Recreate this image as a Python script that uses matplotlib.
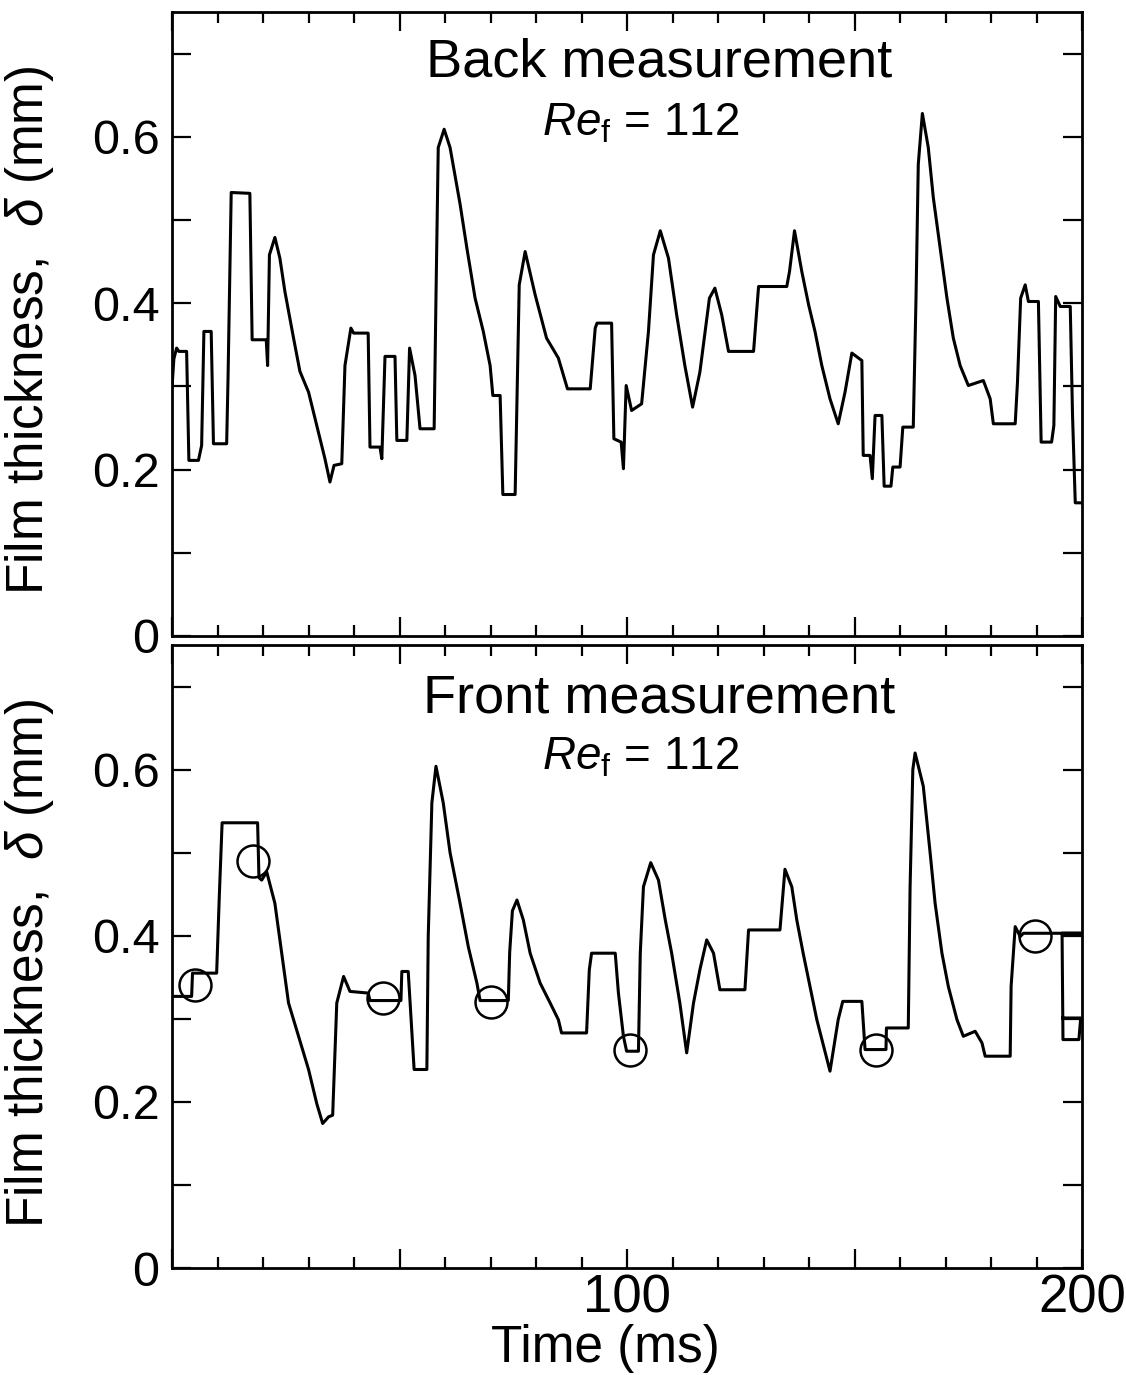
import matplotlib
matplotlib.use("Agg")
import matplotlib.pyplot as plt
from matplotlib.ticker import MultipleLocator

plt.rcParams["font.family"] = ["Liberation Sans", "DejaVu Sans"]
plt.rcParams["mathtext.fontset"] = "custom"
plt.rcParams["mathtext.rm"] = "Liberation Sans"
plt.rcParams["mathtext.it"] = "Liberation Sans:italic"

# back measurement trace (time in ms, film thickness in mm)
t_back = [0, 0.4, 1.0, 1.5, 3.2, 3.7, 5.8, 6.5, 7.0, 8.6, 9.1, 12.0, 12.3, 13.0,
          17.1, 17.6, 20.7, 21.0, 21.4, 22.6, 23.7, 24.8, 26.7, 28.1, 30.0, 31.8,
          33.6, 34.7, 35.6, 37.3, 38.0, 39.3, 39.9, 43.1, 43.5, 45.7, 46.1, 46.8,
          49.0, 49.4, 51.6, 52.2, 53.4, 54.5, 57.6, 58.0, 58.5, 59.8, 61.1, 63.3,
          64.8, 66.6, 68.4, 69.9, 70.5, 72.1, 72.7, 75.4, 76.3, 77.6, 79.8, 82.3,
          84.9, 86.9, 91.9, 93.0, 93.4, 96.6, 97.1, 98.7, 99.2, 99.8, 101.0, 103.2,
          104.7, 105.8, 107.3, 109.1, 110.9, 112.7, 114.4, 116.0, 118.1, 119.3,
          120.8, 122.3, 127.8, 128.9, 135.1, 135.7, 136.8, 138.4, 139.9, 141.3,
          142.8, 144.6, 146.4, 147.9, 149.4, 151.6, 151.9, 153.4, 153.9, 154.5,
          156.0, 156.5, 158.0, 158.4, 160.0, 160.6, 162.9, 163.5, 164.0, 164.9,
          166.2, 167.3, 168.8, 170.3, 171.7, 173.2, 175.0, 178.3, 179.8, 180.5,
          185.3, 185.8, 186.5, 187.5, 188.2, 190.4, 191.0, 193.3, 193.8, 194.2,
          195.2, 197.4, 197.9, 198.5, 200]
d_back = [0.300, 0.333, 0.346, 0.342, 0.342, 0.211, 0.211, 0.229, 0.366, 0.366,
          0.231, 0.231, 0.309, 0.533, 0.532, 0.356, 0.356, 0.325, 0.458, 0.479,
          0.454, 0.414, 0.358, 0.318, 0.293, 0.253, 0.213, 0.185, 0.205, 0.207,
          0.325, 0.370, 0.364, 0.364, 0.227, 0.227, 0.213, 0.336, 0.336, 0.235,
          0.235, 0.346, 0.313, 0.249, 0.249, 0.406, 0.587, 0.609, 0.587, 0.519,
          0.466, 0.406, 0.366, 0.325, 0.289, 0.289, 0.170, 0.170, 0.422, 0.462,
          0.410, 0.358, 0.334, 0.297, 0.297, 0.370, 0.376, 0.376, 0.237, 0.233,
          0.201, 0.301, 0.271, 0.279, 0.366, 0.458, 0.487, 0.454, 0.386, 0.325,
          0.275, 0.317, 0.406, 0.418, 0.386, 0.342, 0.342, 0.420, 0.420, 0.438,
          0.487, 0.438, 0.398, 0.366, 0.325, 0.285, 0.255, 0.293, 0.340, 0.331,
          0.217, 0.217, 0.189, 0.265, 0.265, 0.180, 0.180, 0.203, 0.203, 0.251,
          0.251, 0.406, 0.567, 0.628, 0.587, 0.527, 0.466, 0.406, 0.358, 0.325,
          0.301, 0.307, 0.285, 0.255, 0.255, 0.305, 0.406, 0.422, 0.402, 0.402,
          0.233, 0.233, 0.253, 0.408, 0.396, 0.396, 0.265, 0.160, 0.160]

# front measurement trace
t_front = [0, 4.3, 4.5, 9.8, 10.4, 11.0, 18.8, 19.1, 19.7, 20.8, 22.6, 24.1, 25.6,
           27.8, 30.0, 31.8, 33.1, 34.4, 35.3, 35.8, 36.2, 37.7, 39.1, 43.1, 43.5,
           50.3, 50.5, 51.9, 52.2, 53.2, 56.0, 56.3, 57.1, 58.0, 59.6, 61.1, 63.3,
           65.1, 67.0, 67.7, 73.9, 74.2, 74.8, 75.8, 77.2, 78.7, 80.9, 83.1, 84.9,
           85.6, 91.1, 91.7, 92.2, 97.4, 98.1, 99.2, 99.9, 102.5, 102.9, 103.6,
           105.2, 106.9, 108.4, 109.8, 111.6, 113.1, 114.6, 116.0, 117.5, 119.0,
           120.4, 125.9, 126.7, 133.6, 134.7, 136.2, 137.3, 138.7, 140.2, 141.7,
           144.6, 146.4, 147.4, 151.6, 152.3, 156.9, 157.0, 161.8, 162.2, 162.8,
           163.3, 165.1, 166.6, 167.7, 169.2, 170.6, 172.5, 173.9, 176.5, 178.0,
           178.7, 184.2, 184.4, 185.3, 186.4, 187.1, 195.6, 200, 195.6, 195.8,
           199.3, 199.7, 195.8]
d_front = [0.327, 0.327, 0.355, 0.355, 0.450, 0.536, 0.536, 0.470, 0.467, 0.477,
           0.439, 0.379, 0.319, 0.279, 0.239, 0.198, 0.174, 0.182, 0.184, 0.259,
           0.319, 0.351, 0.333, 0.331, 0.322, 0.322, 0.357, 0.357, 0.330, 0.239,
           0.239, 0.399, 0.560, 0.604, 0.560, 0.500, 0.439, 0.387, 0.343, 0.322,
           0.322, 0.380, 0.430, 0.443, 0.419, 0.379, 0.343, 0.319, 0.299, 0.283,
           0.283, 0.359, 0.379, 0.379, 0.331, 0.279, 0.261, 0.261, 0.379, 0.459,
           0.488, 0.467, 0.419, 0.379, 0.319, 0.259, 0.319, 0.359, 0.395, 0.379,
           0.335, 0.335, 0.407, 0.407, 0.480, 0.459, 0.419, 0.379, 0.339, 0.299,
           0.237, 0.299, 0.321, 0.321, 0.263, 0.263, 0.289, 0.289, 0.459, 0.600,
           0.620, 0.580, 0.500, 0.439, 0.379, 0.339, 0.299, 0.279, 0.285, 0.271,
           0.255, 0.255, 0.339, 0.411, 0.399, 0.403, 0.403, 0.403, 0.403, 0.275,
           0.275, 0.301, 0.301]

# circled points on the front trace
t_marks = [5.1, 17.8, 46.4, 70.1, 100.7, 154.7, 189.7]
d_marks = [0.341, 0.490, 0.325, 0.320, 0.263, 0.263, 0.400]

y_ticks = [0, 0.2, 0.4, 0.6]
y_tick_labels = ["0", "0.2", "0.4", "0.6"]
x_ticks = [0, 50, 100, 150, 200]
x_tick_labels = ["", "", "100", "", "200"]


def style_axis(ax, show_xlabels):
    ax.set_xlim(0, 200)
    ax.set_ylim(0, 0.75)
    for spine in ax.spines.values():
        spine.set_linewidth(2.0)

    ax.set_yticks(y_ticks)
    ax.set_yticklabels(y_tick_labels, fontsize=35)
    ax.yaxis.set_minor_locator(MultipleLocator(0.1))

    ax.set_xticks(x_ticks)
    ax.xaxis.set_minor_locator(MultipleLocator(10))
    if show_xlabels:
        ax.set_xticklabels(x_tick_labels, fontsize=38)
    else:
        ax.set_xticklabels([])

    ax.tick_params(axis="both", which="both", direction="in",
                   top=True, right=True, width=1.6)
    ax.tick_params(axis="y", which="both", length=14, pad=9)
    ax.tick_params(axis="x", which="major", length=14, pad=4)
    ax.tick_params(axis="x", which="minor", length=8)

    ax.set_ylabel(r"Film thickness,  $\delta$ (mm)", fontsize=37)
    ax.yaxis.set_label_coords(-0.127, 0.49)


def main():
    fig = plt.figure(figsize=(11.26, 13.75), dpi=100)

    ax_top = fig.add_axes([0.1528, 0.5375, 0.8082, 0.4538])
    ax_top.plot(t_back, d_back, color="black", lw=2.2)
    style_axis(ax_top, show_xlabels=False)
    ax_top.text(107, 0.672, "Back measurement", ha="center",
                va="baseline", fontsize=39)
    ax_top.text(103, 0.602, r"$\mathit{Re}_\mathrm{f}$ = 112", ha="center",
                va="baseline", fontsize=33)

    ax_bot = fig.add_axes([0.1528, 0.0778, 0.8082, 0.4531])
    ax_bot.plot(t_front, d_front, color="black", lw=2.2)
    ax_bot.plot(t_marks, d_marks, linestyle="none", marker="o", ms=23,
                mfc="none", mec="black", mew=1.8)
    style_axis(ax_bot, show_xlabels=True)
    ax_bot.text(107, 0.669, "Front measurement", ha="center",
                va="baseline", fontsize=39)
    ax_bot.text(103, 0.600, r"$\mathit{Re}_\mathrm{f}$ = 112", ha="center",
                va="baseline", fontsize=33)
    ax_bot.set_xlabel("Time (ms)", fontsize=37)
    ax_bot.xaxis.set_label_coords(0.476, -0.09)

    fig.savefig("out.png", dpi=100)
    plt.close(fig)


if __name__ == "__main__":
    main()
